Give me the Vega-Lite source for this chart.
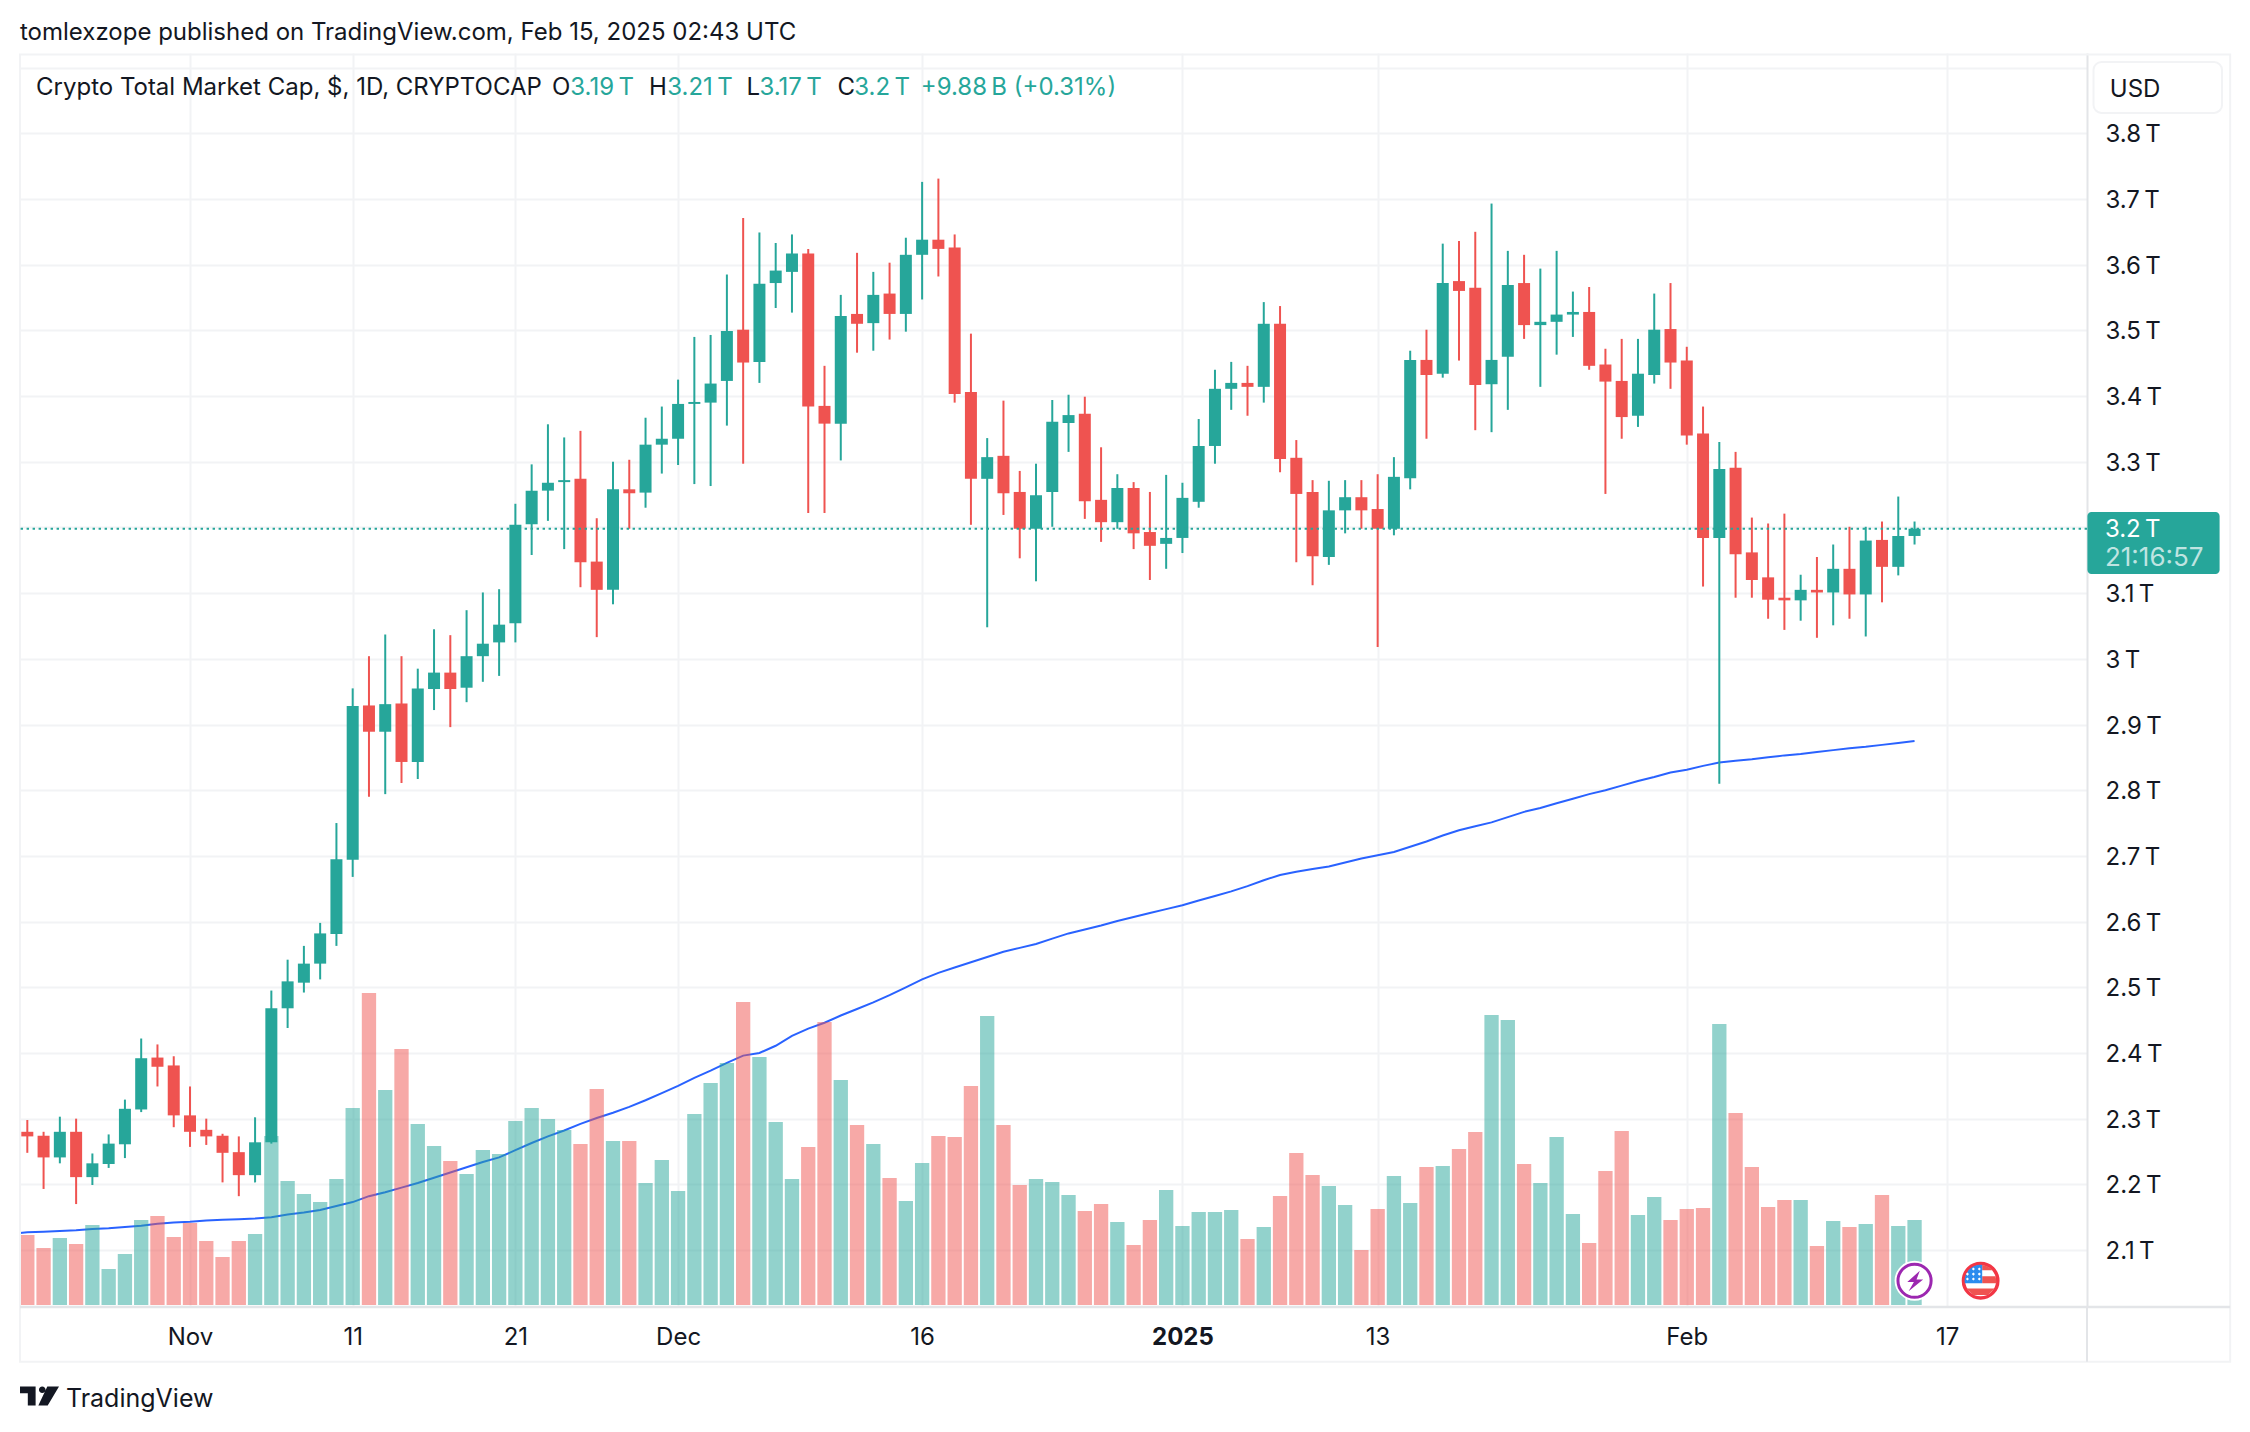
{"$schema":"https://vega.github.io/schema/vega-lite/v6.json","autosize":{"type":"none"},"padding":{"left":20,"top":53,"right":163,"bottom":125},"width":2067,"height":1254,"background":"white",
"title":{"text":"tomlexzope published on TradingView.com, Feb 15, 2025 02:43 UTC","anchor":"start","frame":"group","font":"Inter","fontSize":24,"fontWeight":400,"color":"#131722","offset":8},
"config":{"view":{"stroke":null},"font":"Inter"},
"datasets":{"bars":[
{"d":"2024-10-21T13:13:00Z","ma":2.126},
{"d":"2024-10-22","o":2.28,"h":2.298,"l":2.248,"c":2.273,"v":210,"ma":2.127,"dir":"down"},
{"d":"2024-10-23","o":2.274,"h":2.28,"l":2.193,"c":2.241,"v":171,"ma":2.128,"dir":"down"},
{"d":"2024-10-24","o":2.241,"h":2.303,"l":2.232,"c":2.28,"v":201,"ma":2.129,"dir":"up"},
{"d":"2024-10-25","o":2.28,"h":2.3,"l":2.17,"c":2.211,"v":183,"ma":2.13,"dir":"down"},
{"d":"2024-10-26","o":2.211,"h":2.247,"l":2.199,"c":2.232,"v":240,"ma":2.132,"dir":"up"},
{"d":"2024-10-27","o":2.231,"h":2.276,"l":2.225,"c":2.262,"v":108,"ma":2.133,"dir":"up"},
{"d":"2024-10-28","o":2.261,"h":2.329,"l":2.24,"c":2.315,"v":153,"ma":2.135,"dir":"up"},
{"d":"2024-10-29","o":2.314,"h":2.422,"l":2.31,"c":2.392,"v":255,"ma":2.137,"dir":"up"},
{"d":"2024-10-30","o":2.393,"h":2.413,"l":2.349,"c":2.379,"v":267,"ma":2.14,"dir":"down"},
{"d":"2024-10-31","o":2.381,"h":2.395,"l":2.287,"c":2.305,"v":204,"ma":2.142,"dir":"down"},
{"d":"2024-11-01","o":2.305,"h":2.349,"l":2.257,"c":2.28,"v":246,"ma":2.143,"dir":"down"},
{"d":"2024-11-02","o":2.283,"h":2.3,"l":2.26,"c":2.273,"v":192,"ma":2.145,"dir":"down"},
{"d":"2024-11-03","o":2.274,"h":2.277,"l":2.203,"c":2.248,"v":144,"ma":2.146,"dir":"down"},
{"d":"2024-11-04","o":2.249,"h":2.273,"l":2.182,"c":2.214,"v":192,"ma":2.147,"dir":"down"},
{"d":"2024-11-05","o":2.214,"h":2.302,"l":2.203,"c":2.264,"v":213,"ma":2.148,"dir":"up"},
{"d":"2024-11-06","o":2.264,"h":2.495,"l":2.262,"c":2.468,"v":507,"ma":2.15,"dir":"up"},
{"d":"2024-11-07","o":2.468,"h":2.542,"l":2.438,"c":2.509,"v":372,"ma":2.154,"dir":"up"},
{"d":"2024-11-08","o":2.507,"h":2.563,"l":2.492,"c":2.536,"v":333,"ma":2.157,"dir":"up"},
{"d":"2024-11-09","o":2.536,"h":2.598,"l":2.512,"c":2.582,"v":309,"ma":2.161,"dir":"up"},
{"d":"2024-11-10","o":2.581,"h":2.75,"l":2.563,"c":2.695,"v":378,"ma":2.167,"dir":"up"},
{"d":"2024-11-11","o":2.694,"h":2.955,"l":2.668,"c":2.928,"v":591,"ma":2.173,"dir":"up"},
{"d":"2024-11-12","o":2.929,"h":3.004,"l":2.79,"c":2.889,"v":936,"ma":2.182,"dir":"down"},
{"d":"2024-11-13","o":2.889,"h":3.037,"l":2.794,"c":2.931,"v":645,"ma":2.188,"dir":"up"},
{"d":"2024-11-14","o":2.932,"h":3.004,"l":2.811,"c":2.843,"v":768,"ma":2.195,"dir":"down"},
{"d":"2024-11-15","o":2.843,"h":2.985,"l":2.817,"c":2.955,"v":543,"ma":2.202,"dir":"up"},
{"d":"2024-11-16","o":2.954,"h":3.045,"l":2.922,"c":2.979,"v":477,"ma":2.21,"dir":"up"},
{"d":"2024-11-17","o":2.979,"h":3.036,"l":2.896,"c":2.954,"v":432,"ma":2.218,"dir":"down"},
{"d":"2024-11-18","o":2.956,"h":3.074,"l":2.934,"c":3.004,"v":393,"ma":2.226,"dir":"up"},
{"d":"2024-11-19","o":3.004,"h":3.101,"l":2.965,"c":3.023,"v":465,"ma":2.234,"dir":"up"},
{"d":"2024-11-20","o":3.025,"h":3.106,"l":2.974,"c":3.052,"v":453,"ma":2.241,"dir":"up"},
{"d":"2024-11-21","o":3.054,"h":3.236,"l":3.025,"c":3.204,"v":552,"ma":2.252,"dir":"up"},
{"d":"2024-11-22","o":3.205,"h":3.296,"l":3.158,"c":3.256,"v":591,"ma":2.263,"dir":"up"},
{"d":"2024-11-23","o":3.256,"h":3.357,"l":3.21,"c":3.268,"v":558,"ma":2.273,"dir":"up"},
{"d":"2024-11-24","o":3.269,"h":3.337,"l":3.167,"c":3.272,"v":525,"ma":2.282,"dir":"up"},
{"d":"2024-11-25","o":3.274,"h":3.347,"l":3.109,"c":3.147,"v":483,"ma":2.292,"dir":"down"},
{"d":"2024-11-26","o":3.148,"h":3.214,"l":3.033,"c":3.105,"v":648,"ma":2.301,"dir":"down"},
{"d":"2024-11-27","o":3.105,"h":3.3,"l":3.083,"c":3.258,"v":492,"ma":2.309,"dir":"up"},
{"d":"2024-11-28","o":3.258,"h":3.303,"l":3.198,"c":3.252,"v":492,"ma":2.318,"dir":"down"},
{"d":"2024-11-29","o":3.253,"h":3.367,"l":3.23,"c":3.326,"v":366,"ma":2.328,"dir":"up"},
{"d":"2024-11-30","o":3.326,"h":3.384,"l":3.282,"c":3.335,"v":435,"ma":2.339,"dir":"up"},
{"d":"2024-12-01","o":3.335,"h":3.425,"l":3.295,"c":3.388,"v":342,"ma":2.35,"dir":"up"},
{"d":"2024-12-02","o":3.388,"h":3.49,"l":3.266,"c":3.391,"v":573,"ma":2.362,"dir":"up"},
{"d":"2024-12-03","o":3.39,"h":3.493,"l":3.263,"c":3.419,"v":666,"ma":2.373,"dir":"up"},
{"d":"2024-12-04","o":3.423,"h":3.585,"l":3.355,"c":3.499,"v":726,"ma":2.385,"dir":"up"},
{"d":"2024-12-05","o":3.501,"h":3.671,"l":3.297,"c":3.451,"v":909,"ma":2.396,"dir":"down"},
{"d":"2024-12-06","o":3.452,"h":3.649,"l":3.42,"c":3.571,"v":744,"ma":2.4,"dir":"up"},
{"d":"2024-12-07","o":3.572,"h":3.633,"l":3.534,"c":3.591,"v":549,"ma":2.411,"dir":"up"},
{"d":"2024-12-08","o":3.589,"h":3.646,"l":3.527,"c":3.617,"v":378,"ma":2.426,"dir":"up"},
{"d":"2024-12-09","o":3.617,"h":3.624,"l":3.222,"c":3.384,"v":474,"ma":2.437,"dir":"down"},
{"d":"2024-12-10","o":3.385,"h":3.446,"l":3.222,"c":3.358,"v":849,"ma":2.446,"dir":"down"},
{"d":"2024-12-11","o":3.358,"h":3.554,"l":3.302,"c":3.522,"v":675,"ma":2.457,"dir":"up"},
{"d":"2024-12-12","o":3.525,"h":3.618,"l":3.466,"c":3.51,"v":540,"ma":2.467,"dir":"down"},
{"d":"2024-12-13","o":3.511,"h":3.589,"l":3.469,"c":3.554,"v":483,"ma":2.477,"dir":"up"},
{"d":"2024-12-14","o":3.556,"h":3.603,"l":3.486,"c":3.525,"v":381,"ma":2.488,"dir":"down"},
{"d":"2024-12-15","o":3.525,"h":3.641,"l":3.498,"c":3.615,"v":312,"ma":2.5,"dir":"up"},
{"d":"2024-12-16","o":3.615,"h":3.726,"l":3.547,"c":3.638,"v":426,"ma":2.512,"dir":"up"},
{"d":"2024-12-17","o":3.638,"h":3.731,"l":3.582,"c":3.624,"v":507,"ma":2.522,"dir":"down"},
{"d":"2024-12-18","o":3.626,"h":3.646,"l":3.39,"c":3.403,"v":504,"ma":2.53,"dir":"down"},
{"d":"2024-12-19","o":3.406,"h":3.495,"l":3.204,"c":3.274,"v":657,"ma":2.538,"dir":"down"},
{"d":"2024-12-20","o":3.274,"h":3.336,"l":3.048,"c":3.307,"v":867,"ma":2.546,"dir":"up"},
{"d":"2024-12-21","o":3.309,"h":3.393,"l":3.219,"c":3.252,"v":540,"ma":2.554,"dir":"down"},
{"d":"2024-12-22","o":3.254,"h":3.286,"l":3.153,"c":3.198,"v":360,"ma":2.56,"dir":"down"},
{"d":"2024-12-23","o":3.198,"h":3.297,"l":3.118,"c":3.249,"v":378,"ma":2.566,"dir":"up"},
{"d":"2024-12-24","o":3.254,"h":3.394,"l":3.201,"c":3.361,"v":369,"ma":2.574,"dir":"up"},
{"d":"2024-12-25","o":3.359,"h":3.402,"l":3.315,"c":3.371,"v":330,"ma":2.582,"dir":"up"},
{"d":"2024-12-26","o":3.373,"h":3.399,"l":3.213,"c":3.24,"v":282,"ma":2.588,"dir":"down"},
{"d":"2024-12-27","o":3.242,"h":3.322,"l":3.178,"c":3.208,"v":303,"ma":2.594,"dir":"down"},
{"d":"2024-12-28","o":3.208,"h":3.281,"l":3.198,"c":3.26,"v":249,"ma":2.601,"dir":"up"},
{"d":"2024-12-29","o":3.26,"h":3.269,"l":3.167,"c":3.191,"v":180,"ma":2.607,"dir":"down"},
{"d":"2024-12-30","o":3.193,"h":3.254,"l":3.12,"c":3.172,"v":255,"ma":2.613,"dir":"down"},
{"d":"2024-12-31","o":3.175,"h":3.28,"l":3.137,"c":3.184,"v":345,"ma":2.619,"dir":"up"},
{"d":"2025-01-01","o":3.184,"h":3.268,"l":3.161,"c":3.245,"v":237,"ma":2.625,"dir":"up"},
{"d":"2025-01-02","o":3.239,"h":3.365,"l":3.23,"c":3.324,"v":279,"ma":2.632,"dir":"up"},
{"d":"2025-01-03","o":3.324,"h":3.44,"l":3.297,"c":3.411,"v":279,"ma":2.639,"dir":"up"},
{"d":"2025-01-04","o":3.411,"h":3.452,"l":3.379,"c":3.42,"v":285,"ma":2.646,"dir":"up"},
{"d":"2025-01-05","o":3.42,"h":3.446,"l":3.37,"c":3.414,"v":198,"ma":2.654,"dir":"down"},
{"d":"2025-01-06","o":3.414,"h":3.543,"l":3.39,"c":3.51,"v":234,"ma":2.663,"dir":"up"},
{"d":"2025-01-07","o":3.51,"h":3.537,"l":3.284,"c":3.304,"v":327,"ma":2.671,"dir":"down"},
{"d":"2025-01-08","o":3.306,"h":3.333,"l":3.147,"c":3.251,"v":456,"ma":2.676,"dir":"down"},
{"d":"2025-01-09","o":3.254,"h":3.272,"l":3.112,"c":3.156,"v":390,"ma":2.68,"dir":"down"},
{"d":"2025-01-10","o":3.155,"h":3.271,"l":3.143,"c":3.226,"v":357,"ma":2.684,"dir":"up"},
{"d":"2025-01-11","o":3.226,"h":3.272,"l":3.191,"c":3.246,"v":300,"ma":2.69,"dir":"up"},
{"d":"2025-01-12","o":3.246,"h":3.272,"l":3.198,"c":3.226,"v":165,"ma":2.696,"dir":"down"},
{"d":"2025-01-13","o":3.228,"h":3.281,"l":3.018,"c":3.198,"v":288,"ma":2.701,"dir":"down"},
{"d":"2025-01-14","o":3.198,"h":3.307,"l":3.188,"c":3.277,"v":387,"ma":2.706,"dir":"up"},
{"d":"2025-01-15","o":3.275,"h":3.469,"l":3.258,"c":3.455,"v":306,"ma":2.714,"dir":"up"},
{"d":"2025-01-16","o":3.455,"h":3.501,"l":3.335,"c":3.432,"v":414,"ma":2.722,"dir":"down"},
{"d":"2025-01-17","o":3.434,"h":3.632,"l":3.428,"c":3.572,"v":417,"ma":2.731,"dir":"up"},
{"d":"2025-01-18","o":3.575,"h":3.636,"l":3.454,"c":3.56,"v":468,"ma":2.739,"dir":"down"},
{"d":"2025-01-19","o":3.565,"h":3.65,"l":3.348,"c":3.417,"v":519,"ma":2.745,"dir":"down"},
{"d":"2025-01-20","o":3.418,"h":3.693,"l":3.345,"c":3.455,"v":870,"ma":2.751,"dir":"up"},
{"d":"2025-01-21","o":3.46,"h":3.621,"l":3.379,"c":3.569,"v":855,"ma":2.759,"dir":"up"},
{"d":"2025-01-22","o":3.572,"h":3.615,"l":3.487,"c":3.508,"v":423,"ma":2.767,"dir":"down"},
{"d":"2025-01-23","o":3.508,"h":3.594,"l":3.414,"c":3.513,"v":366,"ma":2.773,"dir":"up"},
{"d":"2025-01-24","o":3.513,"h":3.621,"l":3.463,"c":3.524,"v":504,"ma":2.78,"dir":"up"},
{"d":"2025-01-25","o":3.524,"h":3.559,"l":3.49,"c":3.528,"v":273,"ma":2.787,"dir":"up"},
{"d":"2025-01-26","o":3.528,"h":3.566,"l":3.44,"c":3.446,"v":186,"ma":2.794,"dir":"down"},
{"d":"2025-01-27","o":3.448,"h":3.472,"l":3.251,"c":3.422,"v":402,"ma":2.8,"dir":"down"},
{"d":"2025-01-28","o":3.423,"h":3.487,"l":3.335,"c":3.368,"v":522,"ma":2.807,"dir":"down"},
{"d":"2025-01-29","o":3.37,"h":3.487,"l":3.353,"c":3.434,"v":270,"ma":2.814,"dir":"up"},
{"d":"2025-01-30","o":3.432,"h":3.556,"l":3.419,"c":3.501,"v":324,"ma":2.82,"dir":"up"},
{"d":"2025-01-31","o":3.502,"h":3.572,"l":3.411,"c":3.451,"v":255,"ma":2.827,"dir":"down"},
{"d":"2025-02-01","o":3.454,"h":3.475,"l":3.326,"c":3.34,"v":288,"ma":2.831,"dir":"down"},
{"d":"2025-02-02","o":3.343,"h":3.384,"l":3.11,"c":3.184,"v":291,"ma":2.837,"dir":"down"},
{"d":"2025-02-03","o":3.184,"h":3.33,"l":2.81,"c":3.289,"v":843,"ma":2.842,"dir":"up"},
{"d":"2025-02-04","o":3.291,"h":3.315,"l":3.093,"c":3.159,"v":576,"ma":2.845,"dir":"down"},
{"d":"2025-02-05","o":3.162,"h":3.215,"l":3.093,"c":3.12,"v":414,"ma":2.847,"dir":"down"},
{"d":"2025-02-06","o":3.124,"h":3.206,"l":3.061,"c":3.09,"v":294,"ma":2.85,"dir":"down"},
{"d":"2025-02-07","o":3.093,"h":3.221,"l":3.044,"c":3.089,"v":315,"ma":2.853,"dir":"down"},
{"d":"2025-02-08","o":3.089,"h":3.128,"l":3.058,"c":3.105,"v":315,"ma":2.855,"dir":"up"},
{"d":"2025-02-09","o":3.105,"h":3.155,"l":3.032,"c":3.101,"v":177,"ma":2.858,"dir":"down"},
{"d":"2025-02-10","o":3.101,"h":3.174,"l":3.051,"c":3.137,"v":252,"ma":2.861,"dir":"up"},
{"d":"2025-02-11","o":3.137,"h":3.201,"l":3.061,"c":3.098,"v":234,"ma":2.864,"dir":"down"},
{"d":"2025-02-12","o":3.098,"h":3.201,"l":3.034,"c":3.18,"v":243,"ma":2.866,"dir":"up"},
{"d":"2025-02-13","o":3.181,"h":3.209,"l":3.086,"c":3.14,"v":330,"ma":2.869,"dir":"down"},
{"d":"2025-02-14","o":3.14,"h":3.247,"l":3.127,"c":3.187,"v":237,"ma":2.872,"dir":"up"},
{"d":"2025-02-15","o":3.187,"h":3.209,"l":3.174,"c":3.198,"v":255,"ma":2.875,"dir":"up"}
]},
"resolve":{"scale":{"y":"independent"}},
"layer":[
{"data":{"name":"bars"},"layer":[
{"mark":{"type":"line","stroke":"#2962ff","strokeWidth":2},"encoding":{
"x":{"field":"d","type":"temporal","scale":{"type":"utc","padding":0,"domain":[1729516380000,1740493440000]},"axis":{"title":null,"values":[1730419200000,1731283200000,1732147200000,1733011200000,1734307200000,1735689600000,1736726400000,1738368000000,1739750400000],"grid":true,"gridColor":"#f2f3f5","gridWidth":2,"domain":false,"ticks":false,"labelPadding":18,"labelFont":"Inter","labelFontSize":24,"labelColor":"#131722","labelOverlap":false,"labelBound":false,"labelFlush":false,"labelFontWeight":{"condition":{"test":"utcmonth(datum.value)==0 && utcdate(datum.value)==1","value":"bold"},"value":"normal"},"labelExpr":"utcdate(datum.value)==1 ? (utcmonth(datum.value)==0 ? '2025' : utcFormat(datum.value,'%b')) : utcFormat(datum.value,'%-d')"}},
"y":{"field":"ma","type":"quantitative","scale":{"domain":[2.0133,3.9222]},"axis":{"orient":"right","title":null,"values":[2.1,2.2,2.3,2.4,2.5,2.6,2.7,2.8,2.9,3,3.1,3.2,3.3,3.4,3.5,3.6,3.7,3.8,3.9],"grid":true,"gridColor":"#f2f3f5","gridWidth":2,"domain":true,"domainColor":"#e3e5e8","domainWidth":2,"ticks":false,"labelPadding":18,"labelOffset":1.5,"labelFont":"Inter","labelFontSize":24,"labelColor":"#131722","labelOverlap":false,"labelBound":false,"labelFlush":false,"labelExpr":"datum.value>3.85 || abs(datum.value-3.2)<0.01 ? '' : format(datum.value,'.2~r')+'\u2009T'"}}}}
]},
{"data":{"name":"bars"},"mark":{"type":"bar","width":14.3,"opacity":0.5},"encoding":{
"x":{"field":"d","type":"temporal","scale":{"type":"utc","padding":0},"axis":{"title":null}},
"y":{"field":"v","type":"quantitative","stack":null,"scale":{"domain":[-6,3756]},"axis":null},
"color":{"field":"dir","type":"nominal","scale":{"domain":["up","down"],"range":["#26a69a","#ef5350"]},"legend":null}}},
{"layer":[
{"data":{"values":[{"d":"2024-10-21T13:13:00Z","d2":"2025-03-06T09:36:00Z","p":3.92,"p2":1.93}]},"mark":{"type":"rect","fill":null,"stroke":"#f2f3f5","strokeWidth":2},"encoding":{"x":{"field":"d","type":"temporal","scale":{"type":"utc","padding":0},"axis":{"title":null}},"x2":{"field":"d2"},"y":{"field":"p","type":"quantitative","scale":{"domain":[2.0133,3.9222]},"axis":null},"y2":{"field":"p2"}}},
{"data":{"values":[{"d":"2024-10-21T13:13:00Z","d2":"2025-03-06T09:36:00Z","p":2.0133}]},"mark":{"type":"rule","stroke":"#e3e5e8","strokeWidth":2.5},"encoding":{"x":{"field":"d","type":"temporal","scale":{"type":"utc","padding":0},"axis":{"title":null}},"x2":{"field":"d2"},"y":{"field":"p","type":"quantitative","scale":{"domain":[2.0133,3.9222]},"axis":null}}},
{"data":{"values":[{"d":"2025-02-25T14:24:00Z","p":2.0133,"p2":1.93}]},"mark":{"type":"rule","stroke":"#e3e5e8","strokeWidth":2},"encoding":{"x":{"field":"d","type":"temporal","scale":{"type":"utc","padding":0},"axis":{"title":null}},"y":{"field":"p","type":"quantitative","scale":{"domain":[2.0133,3.9222]},"axis":null},"y2":{"field":"p2"}}},
{"data":{"name":"bars"},"mark":{"type":"rule","strokeWidth":2},"encoding":{"x":{"field":"d","type":"temporal","scale":{"type":"utc","padding":0},"axis":{"title":null}},"y":{"field":"l","type":"quantitative","scale":{"domain":[2.0133,3.9222]},"axis":null},"y2":{"field":"h"},"color":{"field":"dir","type":"nominal","scale":{"domain":["up","down"],"range":["#26a69a","#ef5350"]},"legend":null}}},
{"data":{"name":"bars"},"mark":{"type":"bar","width":12},"encoding":{"x":{"field":"d","type":"temporal","scale":{"type":"utc","padding":0},"axis":{"title":null}},"y":{"field":"o","type":"quantitative","scale":{"domain":[2.0133,3.9222]},"axis":null},"y2":{"field":"c"},"color":{"field":"dir","type":"nominal","scale":{"domain":["up","down"],"range":["#26a69a","#ef5350"]},"legend":null}}},
{"data":{"values":[{"p":3.198}]},"mark":{"type":"rule","stroke":"#26a69a","strokeWidth":2,"strokeDash":[2.4,3.6]},"encoding":{"y":{"field":"p","type":"quantitative","scale":{"domain":[2.0133,3.9222]},"axis":null}}},
{"data":{"values":[{"d":"2025-02-25T15:00:00Z","d2":"2025-03-05T18:00:00Z","p":3.2235,"p2":3.1291}]},"mark":{"type":"rect","fill":"#26a69a","cornerRadius":4},"encoding":{"x":{"field":"d","type":"temporal","scale":{"type":"utc","padding":0},"axis":{"title":null}},"x2":{"field":"d2"},"y":{"field":"p","type":"quantitative","scale":{"domain":[2.0133,3.9222]},"axis":null},"y2":{"field":"p2"}}},
{"data":{"values":[{"d":"2025-02-26T00:00:00Z","d2":"2025-03-05T21:36:00Z","p":3.9085,"p2":3.831}]},"mark":{"type":"rect","fill":"white","stroke":"#f2f3f5","strokeWidth":2,"cornerRadius":8},"encoding":{"x":{"field":"d","type":"temporal","scale":{"type":"utc","padding":0},"axis":{"title":null}},"x2":{"field":"d2"},"y":{"field":"p","type":"quantitative","scale":{"domain":[2.0133,3.9222]},"axis":null},"y2":{"field":"p2"}}},
{"data":{"values":[
{"d":"2024-10-22T12:50:00Z","p":3.869,"t":"Crypto Total Market Cap, $, 1D, CRYPTOCAP"},
{"d":"2024-11-23T06:00:00Z","p":3.869,"t":"O"},
{"d":"2024-11-29T05:00:00Z","p":3.869,"t":"H"},
{"d":"2024-12-05T05:00:00Z","p":3.869,"t":"L"},
{"d":"2024-12-10T19:00:00Z","p":3.869,"t":"C"},
{"d":"2025-02-27T00:00:00Z","p":3.866,"t":"USD"}
]},"mark":{"type":"text","align":"left","baseline":"middle","font":"Inter","fontSize":24,"fill":"#131722"},"encoding":{"x":{"field":"d","type":"temporal","scale":{"type":"utc","padding":0},"axis":{"title":null}},"y":{"field":"p","type":"quantitative","scale":{"domain":[2.0133,3.9222]},"axis":null},"text":{"field":"t"}}},
{"data":{"values":[{"d":"2024-10-24T09:00:00Z","p":1.8725,"t":"TradingView"}]},"mark":{"type":"text","align":"left","baseline":"middle","font":"Inter","fontSize":25,"fill":"#131722"},"encoding":{"x":{"field":"d","type":"temporal","scale":{"type":"utc","padding":0},"axis":{"title":null}},"y":{"field":"p","type":"quantitative","scale":{"domain":[2.0133,3.9222]},"axis":null},"text":{"field":"t"}}},
{"data":{"values":[
{"d":"2024-11-24T09:00:00Z","p":3.869,"t":"3.19\u2009T"},
{"d":"2024-11-30T08:00:00Z","p":3.869,"t":"3.21\u2009T"},
{"d":"2024-12-06T00:00:00Z","p":3.869,"t":"3.17\u2009T"},
{"d":"2024-12-11T20:00:00Z","p":3.869,"t":"3.2\u2009T"},
{"d":"2024-12-15T22:00:00Z","p":3.869,"t":"+9.88\u2009B (+0.31%)"}
]},"mark":{"type":"text","align":"left","baseline":"middle","font":"Inter","fontSize":24,"fill":"#26a69a"},"encoding":{"x":{"field":"d","type":"temporal","scale":{"type":"utc","padding":0},"axis":{"title":null}},"y":{"field":"p","type":"quantitative","scale":{"domain":[2.0133,3.9222]},"axis":null},"text":{"field":"t"}}},
{"data":{"values":[{"d":"2025-02-26T16:48:00Z","p":3.196,"t":"3.2\u2009T"}]},"mark":{"type":"text","align":"left","baseline":"middle","font":"Inter","fontSize":24,"fill":"white"},"encoding":{"x":{"field":"d","type":"temporal","scale":{"type":"utc","padding":0},"axis":{"title":null}},"y":{"field":"p","type":"quantitative","scale":{"domain":[2.0133,3.9222]},"axis":null},"text":{"field":"t"}}},
{"data":{"values":[{"d":"2025-02-26T16:48:00Z","p":3.153,"t":"21:16:57"}]},"mark":{"type":"text","align":"left","baseline":"middle","font":"Inter","fontSize":26,"fill":"#bfe4e1"},"encoding":{"x":{"field":"d","type":"temporal","scale":{"type":"utc","padding":0},"axis":{"title":null}},"y":{"field":"p","type":"quantitative","scale":{"domain":[2.0133,3.9222]},"axis":null},"text":{"field":"t"}}},
{"data":{"values":[{"d":"2024-10-22T18:00:00Z","p":1.8778}]},"mark":{"type":"point","filled":true,"fill":"#131722","opacity":1,"size":1521,"shape":"M-1 -.49H-.2V.49H-.6V-.145H-1ZM.4 -.49H1L.42 .49H-.06ZM-.03 -.32a.17 .17 0 1 0 .34 0a.17 .17 0 1 0 -.34 0Z"},"encoding":{"x":{"field":"d","type":"temporal","scale":{"type":"utc","padding":0},"axis":{"title":null}},"y":{"field":"p","type":"quantitative","scale":{"domain":[2.0133,3.9222]},"axis":null}}},
{"data":{"values":[{"d":"2025-02-15","p":2.0533},{"d":"2025-02-19T01:30:00Z","p":2.0533}]},"mark":{"type":"point","filled":true,"fill":"white","opacity":1,"size":1590,"shape":"circle"},"encoding":{"x":{"field":"d","type":"temporal","scale":{"type":"utc","padding":0},"axis":{"title":null}},"y":{"field":"p","type":"quantitative","scale":{"domain":[2.0133,3.9222]},"axis":null}}},
{"data":{"values":[{"d":"2025-02-15","p":2.0533}]},"mark":{"type":"point","filled":false,"stroke":"#9c27b0","strokeWidth":3,"opacity":1,"size":1100,"shape":"circle"},"encoding":{"x":{"field":"d","type":"temporal","scale":{"type":"utc","padding":0},"axis":{"title":null}},"y":{"field":"p","type":"quantitative","scale":{"domain":[2.0133,3.9222]},"axis":null}}},
{"data":{"values":[{"d":"2025-02-15","p":2.0533}]},"mark":{"type":"point","filled":true,"fill":"#9c27b0","opacity":1,"size":1936,"shape":"M.24 -.45L-.33 .06H-.03L-.27 .48L.39 -.06H.09Z"},"encoding":{"x":{"field":"d","type":"temporal","scale":{"type":"utc","padding":0},"axis":{"title":null}},"y":{"field":"p","type":"quantitative","scale":{"domain":[2.0133,3.9222]},"axis":null}}},
{"data":{"values":[{"d":"2025-02-19T01:30:00Z","p":2.0533}]},"mark":{"type":"point","filled":false,"stroke":"#f23645","strokeWidth":3.5,"opacity":1,"size":1180,"shape":"circle"},"encoding":{"x":{"field":"d","type":"temporal","scale":{"type":"utc","padding":0},"axis":{"title":null}},"y":{"field":"p","type":"quantitative","scale":{"domain":[2.0133,3.9222]},"axis":null}}},
{"data":{"values":[{"d":"2025-02-19T01:30:00Z","p":2.0533}]},"mark":{"type":"point","filled":true,"fill":"#ef5350","opacity":1,"size":1936,"shape":"M.07 -.72A.73 .73 0 0 1 .55 -.48L.07 -.48ZM.07 -.2H.68L.73 .12H.07ZM-.64 .35H.64L.33 .65H-.33Z"},"encoding":{"x":{"field":"d","type":"temporal","scale":{"type":"utc","padding":0},"axis":{"title":null}},"y":{"field":"p","type":"quantitative","scale":{"domain":[2.0133,3.9222]},"axis":null}}},
{"data":{"values":[{"d":"2025-02-19T01:30:00Z","p":2.0533}]},"mark":{"type":"point","filled":true,"fill":"#2b8cee","opacity":1,"size":1936,"shape":"M.07 -.72A.73 .73 0 0 0 -.72 .12L.07 .12Z"},"encoding":{"x":{"field":"d","type":"temporal","scale":{"type":"utc","padding":0},"axis":{"title":null}},"y":{"field":"p","type":"quantitative","scale":{"domain":[2.0133,3.9222]},"axis":null}}},
{"data":{"values":[{"d":"2025-02-19T01:30:00Z","p":2.0533}]},"mark":{"type":"point","filled":true,"fill":"white","opacity":1,"size":1936,"shape":"M-.33 -.6l.07 .07l-.07 .07l-.07 -.07ZM-.06 -.6l.07 .07l-.07 .07l-.07 -.07ZM-.6 -.37l.07 .07l-.07 .07l-.07 -.07ZM-.33 -.37l.07 .07l-.07 .07l-.07 -.07ZM-.06 -.37l.07 .07l-.07 .07l-.07 -.07ZM-.6 -.15l.07 .07l-.07 .07l-.07 -.07ZM-.33 -.15l.07 .07l-.07 .07l-.07 -.07ZM-.06 -.15l.07 .07l-.07 .07l-.07 -.07Z"},"encoding":{"x":{"field":"d","type":"temporal","scale":{"type":"utc","padding":0},"axis":{"title":null}},"y":{"field":"p","type":"quantitative","scale":{"domain":[2.0133,3.9222]},"axis":null}}}
]}
]}
